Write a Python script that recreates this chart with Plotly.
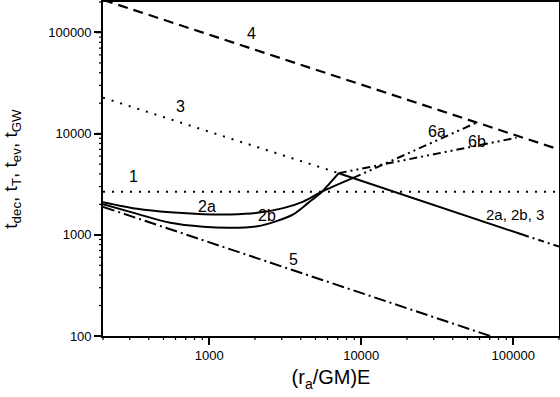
import math
import plotly.graph_objects as go

# ---- data ----
x_range = [200, 200000]
y_range = [100, 200000]

line1_x = [200, 200000]
line1_y = [2670, 2670]

line3_dot_x = [200, 7110]
line3_dot_y = [22700, 4065]
line3_solid_x = [7110, 116000]
line3_solid_y = [4065, 1000]
line3_tail_x = [116000, 200000]
line3_tail_y = [1000, 765]

line4_x = [200, 200000]
line4_y = [210000, 6970]

line5_x = [200, 70600]
line5_y = [1890, 100]

curve2a_x = [200, 336, 554, 913, 1374, 2069, 3068, 4153, 5513, 8859]
curve2a_y = [2100, 1806, 1667, 1600, 1592, 1649, 1836, 2130, 2670, 3650]

curve2b_x = [200, 336, 554, 913, 1374, 2069, 2802, 3569, 4481, 5513, 7110]
curve2b_y = [2010, 1612, 1314, 1200, 1172, 1213, 1375, 1592, 2070, 2670, 4065]

line6a_x = [8859, 57000]
line6a_y = [3650, 12800]
line6b_x = [7110, 105000]
line6b_y = [4065, 9100]

label_text = ["1", "2a", "2b", "3", "4", "5", "6a", "6b", "2a, 2b, 3"]
label_x = [316, 970, 2410, 644, 1890, 3570, 31600, 57900, 103000]
label_y = [3740, 1890, 1540, 18400, 98600, 566, 10400, 8280, 1576]

major_ticks = [100, 1000, 10000, 100000]
minor_ticks = [m * 10 ** e for e in range(2, 6) for m in range(2, 10)]

# ---- figure ----
fig = go.Figure()
BLACK = "black"
FONT = "Liberation Sans, Arial"
W, H = 560, 397
ML, MR, MT, MB = 103, 1, 2, 61
PW, PH = W - ML - MR, H - MT - MB

def add(x, y, dash, width=2, shape="linear"):
    fig.add_trace(go.Scatter(x=x, y=y, mode="lines", showlegend=False,
                             line=dict(color=BLACK, width=width, dash=dash, shape=shape,
                                       smoothing=0.8 if shape == "spline" else None),
                             hoverinfo="skip"))

add(line1_x, line1_y, "2px,7px", 2)
add(line3_dot_x, line3_dot_y, "2px,7px", 2)
add(line3_solid_x, line3_solid_y, "solid", 2)
add(line3_tail_x, line3_tail_y, "6px,4px,2px,4px", 2)
add(line4_x, line4_y, "10px,6px", 2.2)
add(line5_x, line5_y, "12px,4px,2px,4px", 2)
add(curve2a_x, curve2a_y, "solid", 2, "spline")
add(curve2b_x, curve2b_y, "solid", 2, "spline")
add(line6a_x, line6a_y, "8px,4px,2px,4px,2px,4px", 2)
add(line6b_x, line6b_y, "8px,4px,2px,4px,2px,4px", 2)

for t, lx, ly in zip(label_text, label_x, label_y):
    fig.add_annotation(x=math.log10(lx), y=math.log10(ly), text=t, showarrow=False,
                       font=dict(size=15 if len(t) > 2 else 16, color=BLACK, family=FONT))

xr = [math.log10(x_range[0]), math.log10(x_range[1])]
yr = [math.log10(y_range[0]), math.log10(y_range[1])]

# tick marks placed through the axis ranges (major long, minor short)
def xfrac(v):
    return (math.log10(v) - xr[0]) / (xr[1] - xr[0])

def yfrac(v):
    return (math.log10(v) - yr[0]) / (yr[1] - yr[0])

for v in major_ticks + minor_ticks:
    ln, wd = (7, 1.6) if v in major_ticks else (4, 1.2)
    if x_range[0] <= v <= x_range[1]:
        fig.add_shape(type="line", xref="paper", yref="paper",
                      x0=xfrac(v), x1=xfrac(v), y0=0, y1=-ln / PH,
                      line=dict(color=BLACK, width=wd), layer="above")
    if y_range[0] <= v <= y_range[1]:
        fig.add_shape(type="line", xref="paper", yref="paper",
                      x0=0, x1=-ln / PW, y0=yfrac(v), y1=yfrac(v),
                      line=dict(color=BLACK, width=wd), layer="above")

axis_common = dict(
    type="log", tickmode="array", tickvals=major_ticks,
    ticktext=[str(v) for v in major_ticks],
    ticks="outside", ticklen=7, tickwidth=1.6, tickcolor=BLACK,
    showline=True, linecolor=BLACK, linewidth=1.6, mirror=True,
    showgrid=False, zeroline=False, automargin=False,
    tickfont=dict(size=13, color=BLACK, family=FONT),
)

fig.update_layout(
    width=W, height=H,
    margin=dict(l=ML, r=MR, t=MT, b=MB),
    paper_bgcolor="white", plot_bgcolor="white",
    font=dict(family=FONT, color=BLACK),
    xaxis=dict(range=xr,
               title=dict(text="(r<sub>a</sub>/GM)E", font=dict(size=20), standoff=8),
               **axis_common),
    yaxis=dict(range=yr,
               title=dict(text="t<sub>dec</sub>, t<sub>T</sub>, t<sub>ev</sub>, t<sub>GW</sub>",
                          font=dict(size=19), standoff=30),
               **axis_common),
)

fig.write_html("out.html", config={"displayModeBar": False},
               post_script="document.body.style.margin='0';")
